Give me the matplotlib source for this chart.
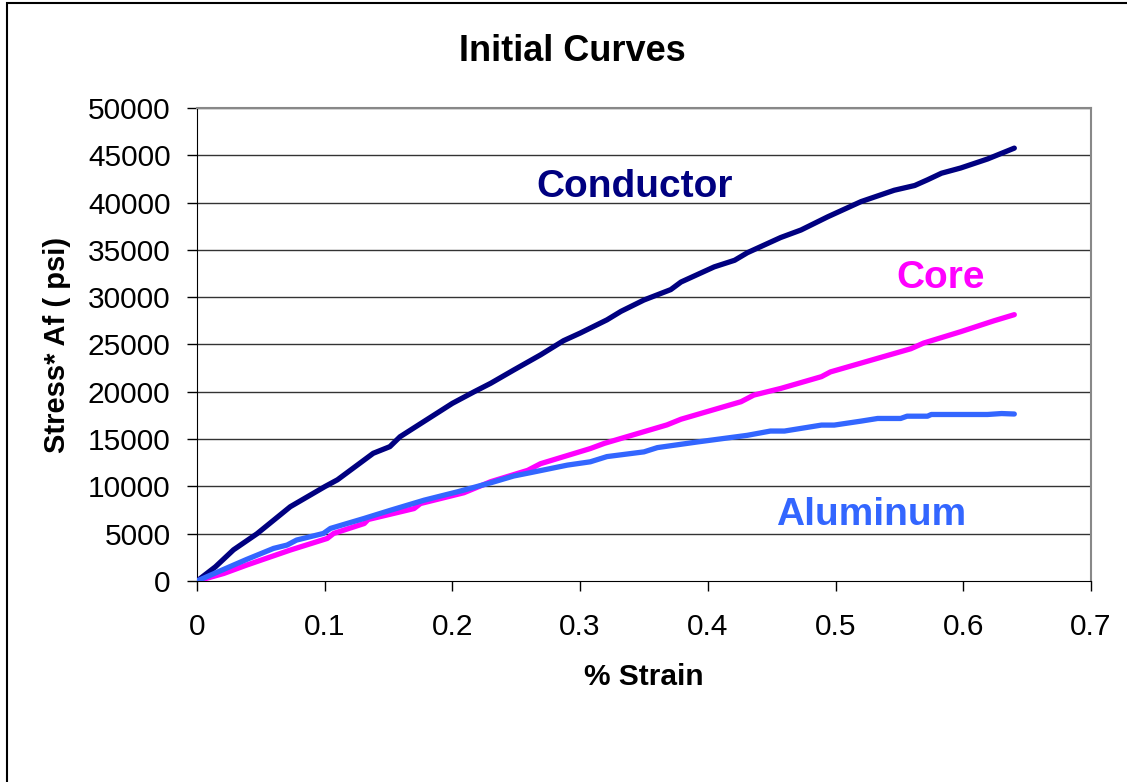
import matplotlib.pyplot as plt
from matplotlib.patches import Rectangle

plt.rcParams['font.family'] = ['Liberation Sans', 'DejaVu Sans']

# Conductor curve (% strain, stress*Af)
cond_x = [0, 0.0144, 0.0286, 0.047, 0.073, 0.100, 0.110, 0.138, 0.151, 0.159, 0.177,
          0.200, 0.217, 0.230, 0.248, 0.269, 0.287, 0.300, 0.321, 0.332, 0.350,
          0.371, 0.379, 0.405, 0.421, 0.431, 0.457, 0.473, 0.494, 0.520, 0.546,
          0.562, 0.572, 0.583, 0.598, 0.619, 0.640]
cond_y = [0, 1500, 3300, 5000, 7850, 9970, 10700, 13500, 14200, 15250, 16800,
          18780, 20000, 20900, 22300, 23900, 25400, 26200, 27600, 28500, 29700,
          30800, 31600, 33200, 33900, 34700, 36300, 37100, 38500, 40100, 41300,
          41800, 42400, 43100, 43650, 44600, 45750]

# Core curve
core_x = [0, 0.021, 0.039, 0.073, 0.102, 0.107, 0.131, 0.134, 0.170, 0.175, 0.209,
          0.230, 0.259, 0.269, 0.308, 0.319, 0.368, 0.379, 0.426, 0.436, 0.457,
          0.489, 0.496, 0.559, 0.569, 0.598, 0.624, 0.640]
core_y = [0, 800, 1690, 3270, 4500, 5030, 6080, 6500, 7660, 8190, 9330,
          10500, 11700, 12400, 14000, 14550, 16500, 17100, 18950, 19650, 20350,
          21600, 22100, 24550, 25150, 26350, 27500, 28150]

# Aluminum curve
alu_x = [0, 0.0287, 0.039, 0.060, 0.0705, 0.078, 0.099, 0.1045, 0.131, 0.152, 0.178,
         0.204, 0.230, 0.248, 0.261, 0.290, 0.308, 0.321, 0.350, 0.3605, 0.392,
         0.431, 0.449, 0.460, 0.489, 0.499, 0.520, 0.533, 0.551, 0.556, 0.572,
         0.575, 0.619, 0.630, 0.640]
alu_y = [0, 1690, 2290, 3450, 3800, 4330, 5030, 5560, 6620, 7500, 8550,
         9430, 10380, 11100, 11450, 12250, 12600, 13150, 13650, 14100, 14700,
         15400, 15850, 15850, 16480, 16480, 16900, 17180, 17180, 17420, 17420,
         17600, 17600, 17700, 17650]

xticks = [0, 0.1, 0.2, 0.3, 0.4, 0.5, 0.6, 0.7]
yticks = [0, 5000, 10000, 15000, 20000, 25000, 30000, 35000, 40000, 45000, 50000]

fig = plt.figure(figsize=(11.27, 7.82), dpi=100)
ax = fig.add_axes([0.1748, 0.257, 0.7932, 0.605])

# outer frame of the chart area
fig.patches.append(Rectangle((0.006, -0.01), 1.2, 1.006, transform=fig.transFigure,
                             fill=False, edgecolor='black', linewidth=1.5))

for yv in yticks[1:]:
    ax.axhline(yv, color='#333333', linewidth=1.0, zorder=1)

ax.plot(cond_x, cond_y, color='#000080', linewidth=3.8, solid_capstyle='round', zorder=3)
ax.plot(core_x, core_y, color='#FF00FF', linewidth=3.8, solid_capstyle='round', zorder=3)
ax.plot(alu_x, alu_y, color='#3366FF', linewidth=3.8, solid_capstyle='round', zorder=4)

ax.set_xlim(0, 0.7)
ax.set_ylim(0, 50000)
ax.set_xticks(xticks)
ax.set_xticklabels(['0', '0.1', '0.2', '0.3', '0.4', '0.5', '0.6', '0.7'])
ax.set_yticks(yticks)
ax.tick_params(axis='both', labelsize=21.5, direction='out', length=7, width=1, colors='black')
ax.tick_params(axis='x', pad=16)
ax.tick_params(axis='y', pad=12)

for s in ['top', 'right']:
    ax.spines[s].set_color('#888888')
    ax.spines[s].set_linewidth(1.5)
ax.spines['left'].set_color('black')
ax.spines['bottom'].set_color('black')

ax.set_title('Initial Curves', fontsize=26, fontweight='bold', pad=34, x=0.42)
ax.set_xlabel('% Strain', fontsize=21.5, fontweight='bold', labelpad=16)
ax.set_ylabel('Stress* Af ( psi)', fontsize=21, fontweight='bold', labelpad=12)

ax.text(0.343, 41600, 'Conductor', color='#000080', fontsize=28, fontweight='bold',
        ha='center', va='center')
ax.text(0.582, 32000, 'Core', color='#FF00FF', fontsize=28, fontweight='bold',
        ha='center', va='center')
ax.text(0.528, 6950, 'Aluminum', color='#3366FF', fontsize=28, fontweight='bold',
        ha='center', va='center')

fig.savefig('out.png', dpi=100)
